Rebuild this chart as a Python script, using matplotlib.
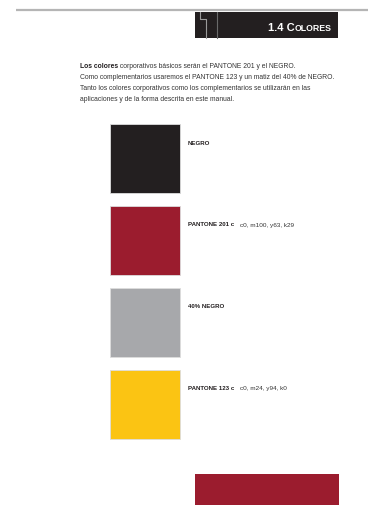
import matplotlib
matplotlib.use("Agg")
import matplotlib.pyplot as plt
from matplotlib.patches import Rectangle

# colores corporativos y complementarios
nombres = ["NEGRO", "PANTONE 201 c", "40% NEGRO", "PANTONE 123 c"]
cmyk = ["", "c0, m100, y63, k29", "", "c0, m24, y94, k0"]
colores = ["#231f20", "#9b1c2e", "#a7a8ab", "#fbc413"]

parrafo = [
    ("Los colores", " corporativos básicos serán el PANTONE 201 y el NEGRO."),
    ("", "Como complementarios usaremos el PANTONE 123 y un matiz del 40% de NEGRO."),
    ("", "Tanto los colores corporativos como los complementarios se utilizarán en las"),
    ("", "aplicaciones y de la forma descrita en este manual."),
]

W, H = 368, 506
fig = plt.figure(figsize=(W / 100, H / 100), dpi=100)
ax = fig.add_axes([0, 0, 1, 1])
ax.set_xlim(0, W)
ax.set_ylim(H, 0)
ax.set_axis_off()
fnt = "Liberation Sans"

# linea gris superior y cabecera
ax.plot([16, W], [11, 11], color="#b5b5b5", lw=1.6, solid_capstyle="butt")
ax.add_patch(Rectangle((195, 13), 143, 26, color="#231f20", lw=0))
ax.plot([200, 200, 206, 206], [13, 20, 20, 39], color="#9a9a9a", lw=0.8)
ax.plot([217, 217], [13, 39], color="#6a6a6a", lw=0.8)

fig.canvas.draw()
r = fig.canvas.get_renderer()
t2 = ax.text(332, 31, "OLORES", color="white", fontsize=6.3, fontweight="bold",
             family=fnt, ha="right", va="baseline")
bb = t2.get_window_extent(r)
x0 = ax.transData.inverted().transform((bb.x0, bb.y0))[0]
ax.text(x0, 31, "1.4 C", color="white", fontsize=8, fontweight="bold",
        family=fnt, ha="right", va="baseline")

# parrafo
for i, (neg, resto) in enumerate(parrafo):
    y = 66 + i * 11
    x = 80
    if neg:
        t = ax.text(x, y, neg, fontsize=4.9, fontweight="bold", family=fnt,
                    color="#231f20", va="center")
        bb = t.get_window_extent(r)
        x = ax.transData.inverted().transform((bb.x1, bb.y0))[0]
    ax.text(x, y, resto, fontsize=4.9, family=fnt, color="#333333", va="center")

# muestras de color
for i, (n, c, col) in enumerate(zip(nombres, cmyk, colores)):
    top = 125 + i * 82
    ax.add_patch(Rectangle((110, top), 70, 69, facecolor=col,
                           edgecolor="#dddddd", lw=0.6))
    t = ax.text(188, top + 18, n, fontsize=4.4, fontweight="bold", family=fnt,
                color="#231f20", va="center")
    if c:
        bb = t.get_window_extent(r)
        xe = ax.transData.inverted().transform((bb.x1, bb.y0))[0]
        ax.text(xe + 6, top + 18, c, fontsize=4.6, family=fnt,
                color="#333333", va="center")

# barra roja inferior
ax.add_patch(Rectangle((195, 475), 144, 40, color=colores[1], lw=0))

fig.savefig("out.png", dpi=100, facecolor="white")
